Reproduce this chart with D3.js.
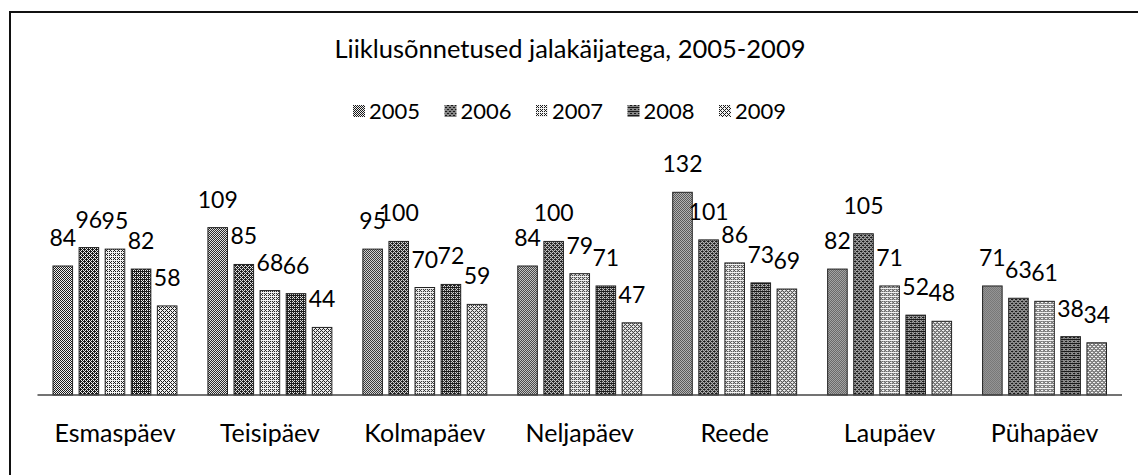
<!DOCTYPE html>
<html>
<head>
<meta charset="utf-8">
<script src="https://cdn.jsdelivr.net/npm/d3@7"></script>
<style>
  body { margin: 0; background: #fff; }
  svg text { font-family: Lato, "Open Sans", sans-serif; fill: #000; }
</style>
</head>
<body>
<div id="chart"></div>
<script>
const days = ['Esmaspäev', 'Teisipäev', 'Kolmapäev', 'Neljapäev', 'Reede', 'Laupäev', 'Pühapäev'];
const years = ['2005', '2006', '2007', '2008', '2009'];
const v2005 = [84, 109, 95, 84, 132, 82, 71];
const v2006 = [96, 85, 100, 100, 101, 105, 63];
const v2007 = [95, 68, 70, 79, 86, 71, 61];
const v2008 = [82, 66, 72, 71, 73, 52, 38];
const v2009 = [58, 44, 59, 47, 69, 48, 34];
const series = [v2005, v2006, v2007, v2008, v2009];
const title = 'Liiklusõnnetused jalakäijatega, 2005-2009';

// grey level of each year's dithered fill (0 = black, 1 = white)
const greys = [0.45, 0.32, 0.66, 0.27, 0.58];
const bayer = [[0, 8, 2, 10], [12, 4, 14, 6], [3, 11, 1, 9], [15, 7, 13, 5]];

const W = 1138, H = 475;
const svg = d3.select('#chart').append('svg')
    .attr('width', W)
    .attr('height', H);

const defs = svg.append('defs');
greys.forEach(function (g, k) {
    const p = defs.append('pattern')
        .attr('id', 'dith' + k)
        .attr('patternUnits', 'userSpaceOnUse')
        .attr('width', 4)
        .attr('height', 4);
    p.append('rect').attr('width', 4).attr('height', 4).attr('fill', '#1a1a1a');
    for (let i = 0; i < 4; i++) {
        for (let j = 0; j < 4; j++) {
            if (bayer[i][j] < g * 16) {
                p.append('rect').attr('x', j).attr('y', i)
                    .attr('width', 1).attr('height', 1).attr('fill', '#f2f2f2');
            }
        }
    }
});

// frame (only top and left edges show in the scan)
svg.append('path')
    .attr('d', 'M10,' + H + ' L10,12 L' + W + ',12')
    .attr('fill', 'none')
    .attr('stroke', '#111')
    .attr('stroke-width', 2);

const x0 = d3.scaleBand().domain(days).range([37.5, 1122]).paddingInner(0.2).paddingOuter(0.1);
const x1 = d3.scaleBand().domain(years).range([0, x0.bandwidth()]).paddingInner(0.25);
const y = d3.scaleLinear().domain([0, 140]).range([395, 180]);

svg.append('text')
    .attr('x', 570)
    .attr('y', 58)
    .attr('text-anchor', 'middle')
    .style('font-size', '25.5px')
    .text(title);

// legend
const leg = svg.append('g').attr('transform', 'translate(353,0)');
years.forEach(function (yr, k) {
    const g = leg.append('g').attr('transform', 'translate(' + (k * 91.5) + ',0)');
    g.append('rect')
        .attr('x', 0).attr('y', 105)
        .attr('width', 12).attr('height', 12)
        .attr('fill', 'url(#dith' + k + ')');
    g.append('text')
        .attr('x', 16)
        .attr('y', 119)
        .style('font-size', '22px')
        .text(yr);
});

const groups = svg.selectAll('g.day').data(days)
    .enter().append('g')
    .classed('day', true)
    .attr('transform', function (d) { return 'translate(' + x0(d) + ',0)'; });

groups.selectAll('rect').data(function (d, i) {
    return series.map(function (s, k) { return { year: years[k], k: k, v: s[i] }; });
})
    .enter().append('rect')
    .attr('x', function (d) { return x1(d.year); })
    .attr('y', function (d) { return y(d.v); })
    .attr('width', x1.bandwidth())
    .attr('height', function (d) { return y(0) - y(d.v); })
    .attr('fill', function (d) { return 'url(#dith' + d.k + ')'; })
    .attr('stroke', '#222')
    .attr('stroke-width', 1);

groups.selectAll('text.val').data(function (d, i) {
    return series.map(function (s, k) { return { year: years[k], v: s[i] }; });
})
    .enter().append('text')
    .classed('val', true)
    .attr('x', function (d) { return x1(d.year) + x1.bandwidth() / 2; })
    .attr('y', function (d) { return y(d.v) - 20; })
    .attr('text-anchor', 'middle')
    .style('font-size', '23px')
    .text(function (d) { return d.v; });

// category axis
const axis = svg.append('g').attr('transform', 'translate(0,395)')
    .call(d3.axisBottom(x0).tickSize(0).tickPadding(0));
axis.select('.domain').attr('stroke', '#444').attr('stroke-width', 1.5).attr('d', 'M37.5,0H1122');
axis.selectAll('.tick text')
    .attr('dy', 0)
    .attr('y', 47)
    .style('font-size', '25px')
    .style('font-family', 'Lato, sans-serif')
    .attr('fill', '#000');
</script>
</body>
</html>
